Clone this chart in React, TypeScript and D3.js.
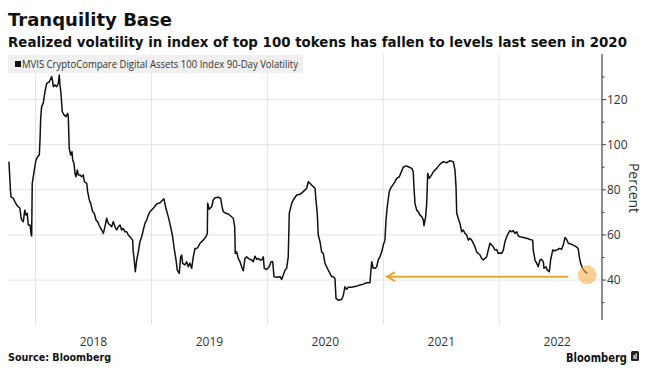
import React from "react";
import * as d3 from "d3";

// Decimal-year dates and 90-day volatility (%)
const dates: number[] = [
  2017.771, 2017.784, 2017.789, 2017.809, 2017.823, 2017.838, 2017.852, 2017.866, 2017.875, 2017.881,
  2017.895, 2017.905, 2017.909, 2017.918, 2017.929, 2017.938, 2017.953, 2017.963, 2017.967, 2017.972,
  2017.990, 2018.004, 2018.019, 2018.033, 2018.039, 2018.045, 2018.053, 2018.067, 2018.082, 2018.097,
  2018.119, 2018.140, 2018.148, 2018.154, 2018.168, 2018.183, 2018.197, 2018.205, 2018.211, 2018.220,
  2018.231, 2018.246, 2018.263, 2018.278, 2018.283, 2018.291, 2018.304, 2018.315, 2018.321, 2018.332,
  2018.341, 2018.349, 2018.361, 2018.369, 2018.384, 2018.398, 2018.412, 2018.421, 2018.442, 2018.450,
  2018.464, 2018.476, 2018.493, 2018.507, 2018.522, 2018.536, 2018.548, 2018.556, 2018.571, 2018.585,
  2018.599, 2018.614, 2018.628, 2018.643, 2018.657, 2018.671, 2018.686, 2018.700, 2018.714, 2018.729,
  2018.743, 2018.757, 2018.772, 2018.787, 2018.800, 2018.815, 2018.838, 2018.843, 2018.852, 2018.861,
  2018.873, 2018.887, 2018.901, 2018.916, 2018.930, 2018.944, 2018.959, 2018.973, 2018.987, 2019.016,
  2019.045, 2019.074, 2019.097, 2019.108, 2019.125, 2019.145, 2019.166, 2019.183, 2019.194, 2019.212,
  2019.223, 2019.240, 2019.252, 2019.261, 2019.269, 2019.289, 2019.304, 2019.318, 2019.332, 2019.347,
  2019.361, 2019.376, 2019.390, 2019.404, 2019.419, 2019.447, 2019.470, 2019.482, 2019.485, 2019.499,
  2019.520, 2019.533, 2019.548, 2019.577, 2019.597, 2019.609, 2019.620, 2019.643, 2019.663, 2019.684,
  2019.706, 2019.718, 2019.723, 2019.735, 2019.749, 2019.764, 2019.778, 2019.792, 2019.807, 2019.821,
  2019.835, 2019.850, 2019.865, 2019.878, 2019.893, 2019.908, 2019.922, 2019.936, 2019.951, 2019.965,
  2019.973, 2019.994, 2020.016, 2020.031, 2020.046, 2020.057, 2020.080, 2020.109, 2020.123, 2020.137,
  2020.152, 2020.166, 2020.180, 2020.189, 2020.210, 2020.223, 2020.253, 2020.281, 2020.310, 2020.339,
  2020.353, 2020.367, 2020.396, 2020.411, 2020.419, 2020.430, 2020.439, 2020.454, 2020.468, 2020.482,
  2020.497, 2020.511, 2020.525, 2020.540, 2020.555, 2020.568, 2020.583, 2020.592, 2020.611, 2020.641,
  2020.655, 2020.669, 2020.684, 2020.698, 2020.727, 2020.741, 2020.770, 2020.799, 2020.827, 2020.856,
  2020.885, 2020.891, 2020.900, 2020.913, 2020.928, 2020.943, 2020.956, 2020.971, 2020.986, 2021.000,
  2021.014, 2021.023, 2021.034, 2021.051, 2021.063, 2021.081, 2021.101, 2021.115, 2021.138, 2021.150,
  2021.172, 2021.195, 2021.215, 2021.245, 2021.258, 2021.264, 2021.273, 2021.288, 2021.301, 2021.316,
  2021.331, 2021.345, 2021.351, 2021.365, 2021.374, 2021.383, 2021.396, 2021.417, 2021.431, 2021.460,
  2021.489, 2021.517, 2021.546, 2021.575, 2021.603, 2021.618, 2021.627, 2021.633, 2021.646, 2021.661,
  2021.676, 2021.690, 2021.704, 2021.719, 2021.733, 2021.747, 2021.762, 2021.776, 2021.790, 2021.805,
  2021.819, 2021.834, 2021.848, 2021.862, 2021.877, 2021.891, 2021.905, 2021.920, 2021.934, 2021.948,
  2021.963, 2021.978, 2021.991, 2022.006, 2022.021, 2022.035, 2022.049, 2022.064, 2022.078, 2022.092,
  2022.107, 2022.121, 2022.135, 2022.150, 2022.164, 2022.179, 2022.207, 2022.236, 2022.265, 2022.288,
  2022.293, 2022.308, 2022.323, 2022.336, 2022.351, 2022.366, 2022.380, 2022.386, 2022.403, 2022.414,
  2022.431, 2022.443, 2022.461, 2022.480, 2022.495, 2022.518, 2022.538, 2022.552, 2022.567, 2022.581,
  2022.595, 2022.616, 2022.638, 2022.662, 2022.681, 2022.690, 2022.702, 2022.719, 2022.739, 2022.759,
];

const volatility: number[] = [
  92.5, 80, 76.9, 76.2, 74.7, 73.3, 72.5, 71.8, 68, 66.6,
  65.9, 70, 71, 68.8, 69.6, 64.4, 64.4, 60, 59.5, 82.9,
  88.8, 93.2, 94.7, 95.4, 102, 111.7, 116.9, 118.4, 123.5, 127.2,
  127.9, 130.2, 128, 125.7, 126.5, 125.7, 127.2, 130.9, 126.5, 122.8,
  114.6, 113.2, 112.4, 113.9, 112.4, 98.4, 95.4, 96.9, 93.2, 91.7,
  87.3, 85.8, 88.8, 86.6, 86.6, 85.8, 86.6, 83.6, 82.9, 79.2,
  75.5, 74, 70.3, 69.6, 66.6, 65.9, 64.4, 63.6, 62.2, 60.7,
  63.6, 67.4, 65.1, 64.4, 63.6, 65.9, 63.6, 62.2, 63.6, 64.4,
  62.2, 62.9, 61.4, 61.4, 60, 59.2, 57.7, 52.5, 48.9, 43.7,
  48.9, 52.5, 57, 59.2, 62.2, 65.1, 66.6, 68.8, 70.3, 71.8,
  73.7, 74.3, 75.5, 76, 71.8, 68.1, 63.6, 59.2, 54.8, 48.9,
  44.4, 43, 50.3, 51.1, 47.4, 46.7, 48.1, 45.9, 47.5, 45.2,
  50.3, 54, 54, 54.8, 56.3, 57.7, 59.2, 60.7, 74, 71.4,
  72.5, 75.5, 76.5, 76.7, 76.2, 72.5, 70.3, 69.6, 69.3, 68.4,
  67.4, 63.6, 51.8, 52.5, 49.6, 48.1, 45.9, 44.1, 49.6, 50.3,
  49.6, 49.2, 48.9, 48.1, 50.6, 49.2, 49.6, 48.9, 48.9, 50.3,
  45.2, 44.7, 45.9, 48.1, 48.1, 41.5, 41.2, 41.5, 40.3, 42.2,
  44.4, 45.2, 50.3, 69.6, 74, 75.5, 77.7, 78, 79.2, 80.7,
  83.6, 82.9, 81.4, 80.7, 75.5, 69.6, 60, 57, 52.5, 51.8,
  47.4, 45.9, 44.4, 43, 41.5, 41.5, 40.7, 31.9, 31.1, 31.4,
  33.3, 37, 35.9, 36.8, 36.8, 37, 37.3, 37.8, 38.2, 38.8,
  38.8, 43, 48.1, 45.2, 45.2, 45.9, 48.9, 50.3, 52.5, 55.5,
  57.7, 66.6, 72.5, 79.2, 80.7, 82.1, 83.6, 85.1, 85.8, 87.3,
  90, 90.6, 90.2, 89.5, 88, 81.4, 74, 71, 70.3, 68.8,
  68.1, 66.6, 64.1, 68.1, 74, 87.3, 85.1, 86.6, 88, 89.5,
  91.4, 92.5, 92, 92.9, 92.5, 88.8, 81.4, 69.6, 67.4, 65.1,
  61.4, 62.2, 60.7, 60, 57.7, 58.5, 57.7, 56.3, 54.8, 52.5,
  51.8, 51.1, 49.6, 48.9, 49.6, 50.3, 53.3, 56.3, 55.5, 54.8,
  53.3, 53.5, 51.8, 52, 51.8, 53.3, 57, 59.2, 60.7, 61.9,
  61.4, 61.9, 60.7, 61.4, 59.5, 59.2, 58.9, 58.5, 58, 57.7,
  53.3, 48.9, 47.4, 45.9, 48.9, 49.2, 48.1, 45.2, 45.9, 44.4,
  43.7, 48.9, 53.3, 53, 53.3, 54, 53.7, 55.5, 58.9, 58,
  56.3, 56, 55.5, 54.8, 54, 50.3, 47.4, 45.2, 43.7, 43,
];

const yearTicks: number[] = [2018, 2019, 2020, 2021, 2022];
const yMajorTicks: number[] = [40, 60, 80, 100, 120];
const yMinorTicks: number[] = [30, 50, 70, 90, 110, 130];
const arrowFrom: [number, number] = [2022.595, 41.5];
const arrowTo: [number, number] = [2021.032, 41.5];

const TITLE = "Tranquility Base";
const SUBTITLE = "Realized volatility in index of top 100 tokens has fallen to levels last seen in 2020";
const LEGEND = "MVIS CryptoCompare Digital Assets 100 Index 90-Day Volatility";

export default function App() {
  const W = 653, H = 376;
  const left = 8, right = 602, top = 54, bottom = 320;
  const x = d3.scaleLinear().domain([2017.763, 2022.886]).range([left, right]);
  const y = d3.scaleLinear().domain([22.3, 140.2]).range([bottom, top]);
  const pts = dates.map((d, i) => [d, volatility[i]] as [number, number]);
  const line = d3.line<[number, number]>().x(d => x(d[0])).y(d => y(d[1]))(pts) || "";
  const last = pts[pts.length - 1];
  const ay = y(arrowTo[1]);
  const ax0 = x(arrowFrom[0]);
  const ax1 = x(arrowTo[0]);
  const font = "'Open Sans', 'DejaVu Sans', sans-serif";
  const boldFont = "'DejaVu Sans', sans-serif";

  return (
    <svg width={W} height={H} style={{ position: "absolute", left: 0, top: 0, background: "#fff" }}>
      <rect x={0} y={0} width={W} height={H} fill="#fff" />
      <text x={8} y={26} fontFamily={boldFont} fontWeight="bold" fontSize={18} fill="#111"
        textLength={164} lengthAdjust="spacingAndGlyphs">{TITLE}</text>
      <text x={8} y={47} fontFamily={boldFont} fontWeight="bold" fontSize={13.5} fill="#111"
        textLength={619} lengthAdjust="spacingAndGlyphs">{SUBTITLE}</text>

      {/* grid */}
      {yMajorTicks.map(v => (
        <line key={"hg" + v} x1={left} x2={right} y1={y(v)} y2={y(v)} stroke="#e4e4e4" strokeWidth={1} />
      ))}
      {yearTicks.map(t => (
        <line key={"vg" + t} x1={x(t)} x2={x(t)} y1={top} y2={bottom} stroke="#e4e4e4" strokeWidth={1} />
      ))}
      {yearTicks.map(t => (
        <line key={"vt" + t} x1={x(t)} x2={x(t)} y1={bottom} y2={bottom + 4} stroke="#ddd" strokeWidth={1} />
      ))}

      {/* legend */}
      <rect x={8} y={55} width={295} height={18} fill="#f0f0f0" />
      <rect x={15} y={61} width={6} height={6} fill="#111" />
      <text x={22} y={67.5} fontFamily={font} fontSize={10} fill="#333"
        textLength={276} lengthAdjust="spacingAndGlyphs">{LEGEND}</text>

      {/* series */}
      <path d={line} fill="none" stroke="#111" strokeWidth={1.5} strokeLinejoin="round" />

      {/* annotation */}
      <circle cx={x(last[0])} cy={y(last[1]) + 1.5} r={9} fill="#f6b24e" fillOpacity={0.6}
        stroke="#f0a838" strokeOpacity={0.6} strokeDasharray="1.5 1.5" />
      <line x1={ax0} x2={ax1} y1={ay} y2={ay} stroke="#e9a62f" strokeWidth={2} />
      <polyline points={`${ax1 + 8},${ay - 4.5} ${ax1},${ay} ${ax1 + 8},${ay + 4.5}`} fill="none"
        stroke="#e9a62f" strokeWidth={2} />

      {/* y axis */}
      <line x1={right} x2={right} y1={top} y2={bottom} stroke="#444" strokeWidth={1.2} />
      {yMajorTicks.map(v => (
        <g key={"yt" + v}>
          <line x1={right} x2={right + 4} y1={y(v)} y2={y(v)} stroke="#444" />
          <text x={right + 5} y={y(v)} dy="0.35em" fontFamily={font} fontSize={12} fill="#333">{v}</text>
        </g>
      ))}
      {yMinorTicks.map(v => (
        <line key={"ym" + v} x1={right} x2={right + 2.5} y1={y(v)} y2={y(v)} stroke="#444" />
      ))}
      <text transform={`translate(629,188) rotate(90)`} textAnchor="middle" fontFamily={font} fontSize={14} fill="#333">Percent</text>

      {/* x labels */}
      {yearTicks.map(t => (
        <text key={"xl" + t} x={x(t + 0.5)} y={346} textAnchor="middle" fontFamily={font} fontSize={12} fill="#333">{t}</text>
      ))}

      <text x={8} y={361} fontFamily={boldFont} fontWeight="bold" fontSize={10} fill="#111"
        textLength={103} lengthAdjust="spacingAndGlyphs">Source: Bloomberg</text>
      <text x={566} y={362} fontFamily={boldFont} fontWeight="bold" fontSize={13} fill="#111"
        textLength={61} lengthAdjust="spacingAndGlyphs">Bloomberg</text>
      <rect x={631} y={351} width={8} height={10} rx={1.5} fill="#222" />
      <rect x={633.5} y={355} width={1.2} height={4} fill="#fff" />
      <rect x={635.5} y={353.5} width={1.2} height={5.5} fill="#fff" />
    </svg>
  );
}
